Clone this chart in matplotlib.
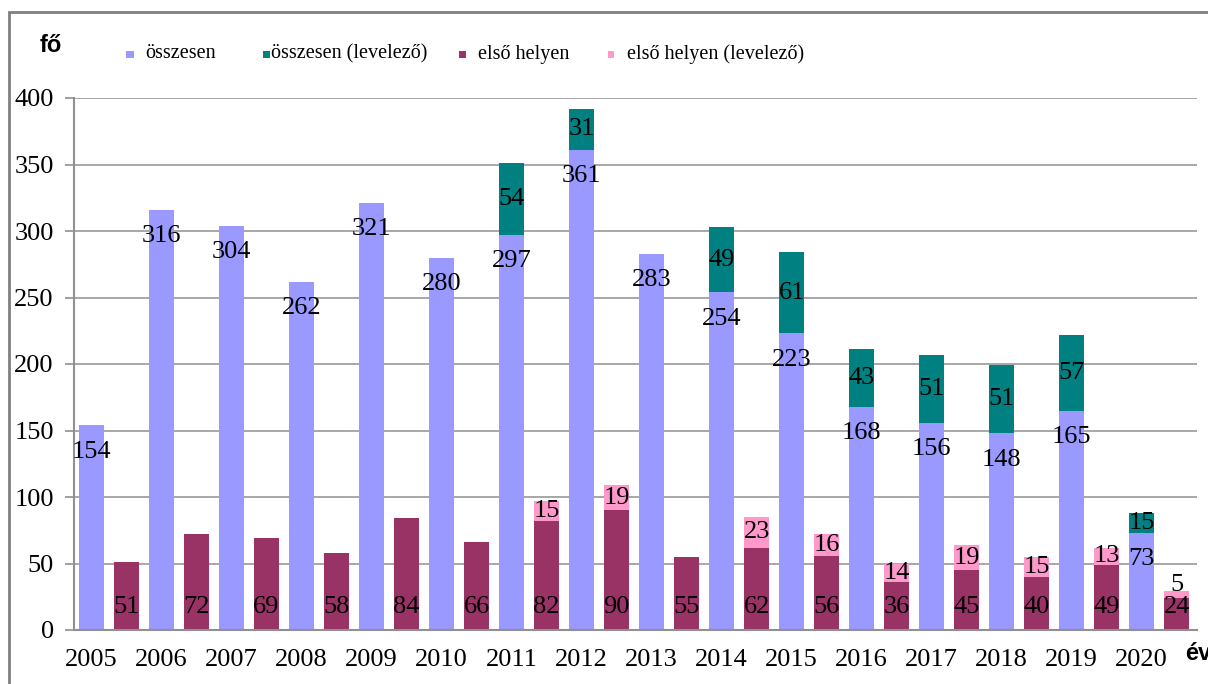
import numpy as np
import matplotlib
matplotlib.use("Agg")
import matplotlib.pyplot as plt
from matplotlib.patches import Rectangle

years = ["2005", "2006", "2007", "2008", "2009", "2010", "2011", "2012",
         "2013", "2014", "2015", "2016", "2017", "2018", "2019", "2020"]
osszesen = [154, 316, 304, 262, 321, 280, 297, 361, 283, 254, 223, 168, 156, 148, 165, 73]
osszesen_lev = [0, 0, 0, 0, 0, 0, 54, 31, 0, 49, 61, 43, 51, 51, 57, 15]
elso = [51, 72, 69, 58, 84, 66, 82, 90, 55, 62, 56, 36, 45, 40, 49, 24]
elso_lev = [0, 0, 0, 0, 0, 0, 15, 19, 0, 23, 16, 14, 19, 15, 13, 5]
series_names = ["összesen", "összesen (levelező)", "első helyen", "első helyen (levelező)"]
colors = ["#9999FF", "#008080", "#993366", "#FF99CC"]

SERIF = ["Liberation Serif", "DejaVu Serif"]
SANS = ["Liberation Sans", "DejaVu Sans"]
plt.rcParams["font.family"] = SERIF

W, H = 1208, 684
fig = plt.figure(figsize=(W / 100, H / 100), dpi=100)
ax_l, ax_r, ax_b, ax_t = 74, 1197, 630, 98
ax = fig.add_axes([ax_l / W, 1 - ax_b / H, (ax_r - ax_l) / W, (ax_b - ax_t) / H])

x = np.arange(len(years))
w = 0.36
xb = x
xm = x + 0.5

ax.bar(xb, osszesen, w, color=colors[0], zorder=2)
ax.bar(xb, osszesen_lev, w, bottom=osszesen, color=colors[1], zorder=2)
ax.bar(xm, elso, w, color=colors[2], zorder=2)
ax.bar(xm, elso_lev, w, bottom=elso, color=colors[3], zorder=2)

ymax = 400
pt_per_unit = (ax_b - ax_t) / ymax * 0.72

fs = 19
for xi, v in zip(xb, osszesen):
    ax.annotate(str(v), (xi, v), xytext=(0, -19), textcoords="offset points",
                ha="center", va="center", fontsize=fs, zorder=5)
for xi, v in zip(xm, elso):
    ax.annotate(str(v), (xi, 0), xytext=(0, 16.5), textcoords="offset points",
                ha="center", va="center", fontsize=fs, zorder=5)
for xi, b, v in zip(xb, osszesen, osszesen_lev):
    if v:
        ax.annotate(str(v), (xi, b + v / 2), ha="center", va="center", fontsize=fs, zorder=5)
for xi, b, v in zip(xm, elso, elso_lev):
    if v:
        lift = max(0.0, 32.5 - (b + v / 2) * pt_per_unit)
        ax.annotate(str(v), (xi, b + v / 2), xytext=(0, lift), textcoords="offset points",
                    ha="center", va="center", fontsize=fs, zorder=5)

ax.set_ylim(0, ymax)
ax.set_xlim(-0.25, 15.79)
ax.set_yticks(np.arange(0, 401, 50))
ax.set_xticks(xb)
ax.set_xticklabels(years)
ax.tick_params(axis="x", length=0, pad=14, labelsize=fs)
ax.tick_params(axis="y", length=6.5, width=1.2, color="#909090", pad=8, labelsize=fs)
ax.grid(axis="y", color="#A0A0A0", linewidth=1.3, zorder=0)
ax.set_axisbelow(True)
for s in ["top", "right"]:
    ax.spines[s].set_visible(False)
for s in ["left", "bottom"]:
    ax.spines[s].set_color("#909090")
    ax.spines[s].set_linewidth(1.5)

fig.text(40 / W, 1 - 46 / H, "fő", fontsize=17, fontweight="bold",
         family=SANS, va="center", ha="left")
fig.text(1185 / W, 1 - 653 / H, "év", fontsize=17, fontweight="bold",
         family=SANS, va="center", ha="left")

# legend (manual placement to match reference layout)
sq_x = [130, 266, 462, 611]
txt_x = [145, 271, 478, 627]
leg_y = 54
sq = 7
for c, sx, tx, name in zip(colors, sq_x, txt_x, series_names):
    fig.patches.append(Rectangle(((sx - sq / 2) / W, 1 - (leg_y + sq / 2) / H), sq / W, sq / H,
                                 transform=fig.transFigure, facecolor=c, edgecolor="none",
                                 figure=fig))
    fig.text(tx / W, 1 - leg_y / H, name, fontsize=14.5, va="center", ha="left")

fig.patches.append(Rectangle((9 / W, -0.5), 2, 1 - 12 / H + 0.5, transform=fig.transFigure,
                             fill=False, edgecolor="#808080", linewidth=2, figure=fig))

fig.savefig("out.png", dpi=100)
